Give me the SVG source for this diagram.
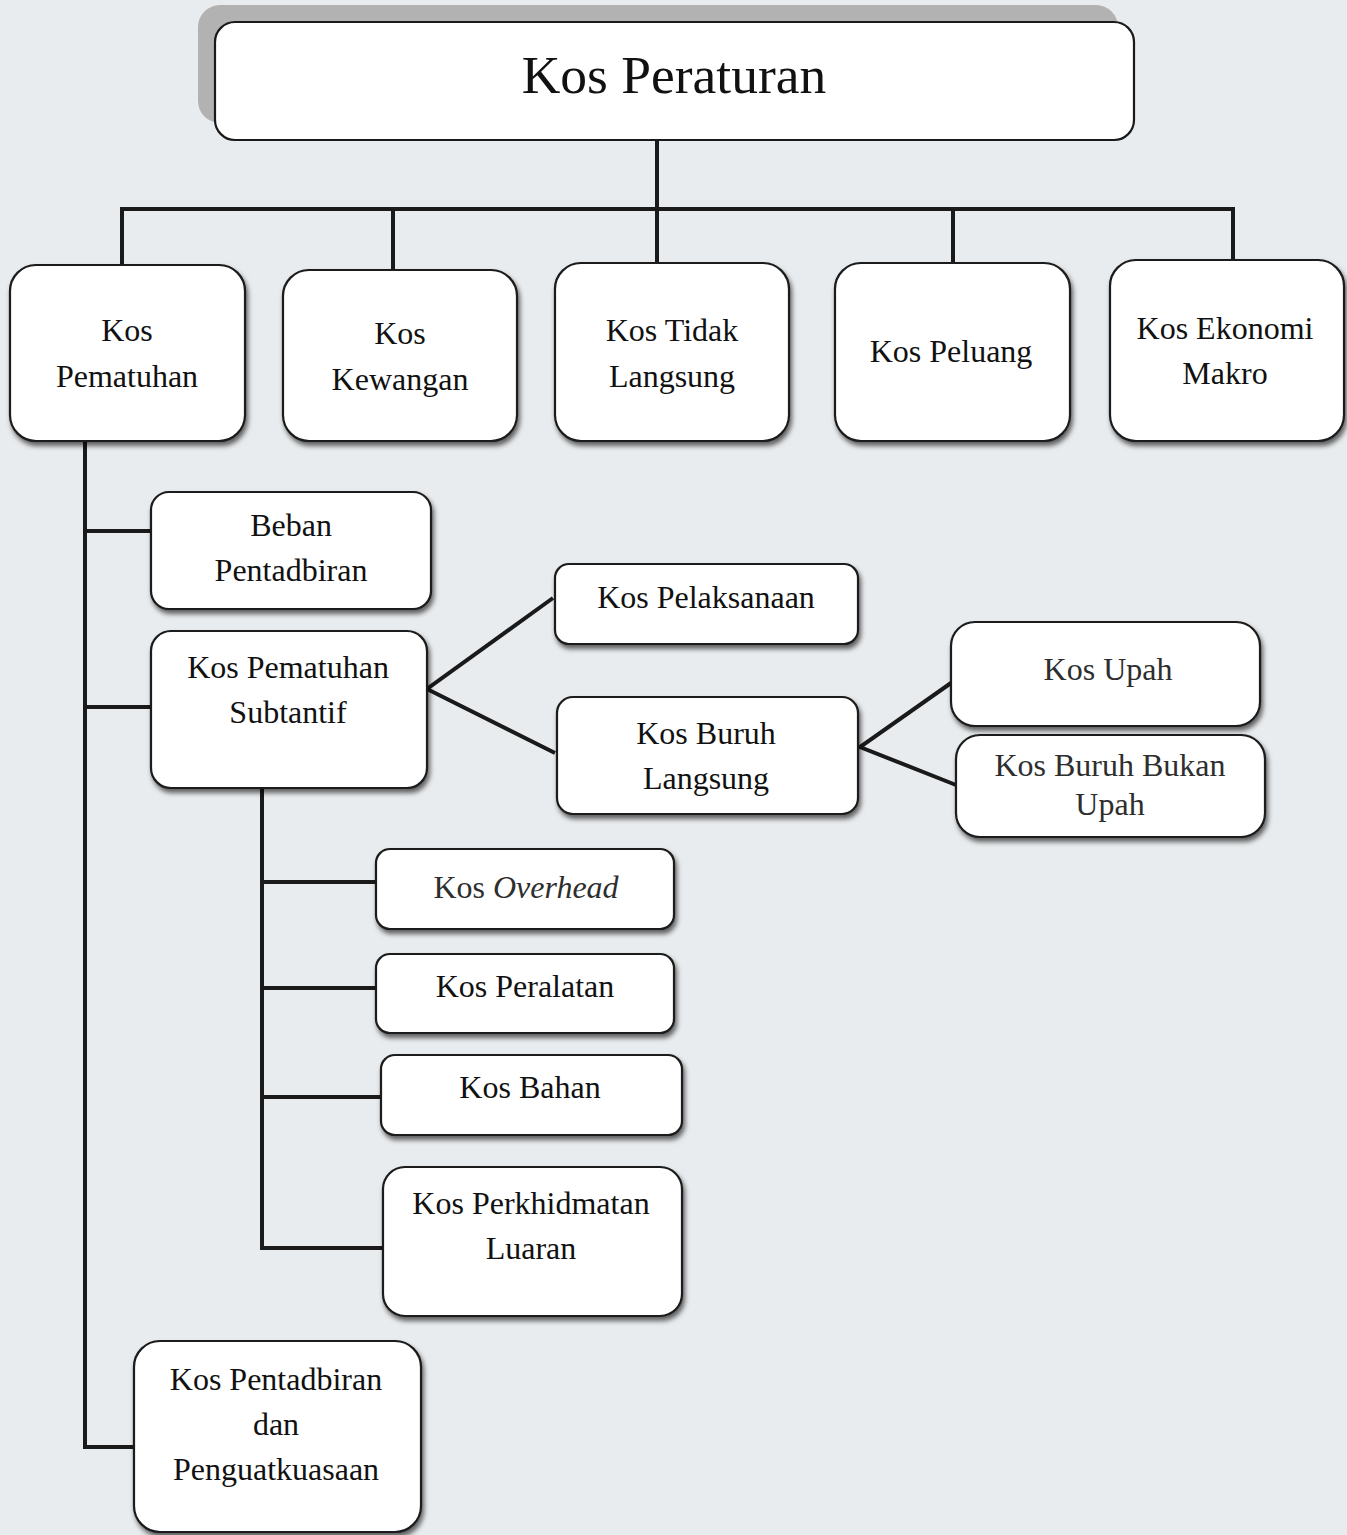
<svg xmlns="http://www.w3.org/2000/svg" width="1347" height="1535" viewBox="0 0 1347 1535">
<style>
.box{fill:#ffffff;stroke:#1a1a1a;stroke-width:2.2;filter:url(#sh)}
.t{font-family:'Liberation Serif','DejaVu Serif',serif;font-size:32px;fill:#111;text-anchor:middle}
.g{fill:#2e2e2e}
.c{fill:none;stroke:#1a1a1a;stroke-width:4;stroke-linejoin:miter}
</style>
<defs>
<filter id="sh" x="-10%" y="-10%" width="125%" height="130%">
<feDropShadow dx="2" dy="4" stdDeviation="2.5" flood-color="#000" flood-opacity="0.6"/>
</filter>
</defs>
<rect x="0" y="0" width="1347" height="1535" fill="#e9ecee"/>

<g id="connectors">
<path class="c" d="M657 140 V209 M122 265 V209 H1233 V260 M393 209 V270 M657 209 V263 M953 209 V262"/>
<path class="c" d="M85 441 V1447 H134 M85 531 H151 M85 707 H151"/>
<path class="c" d="M553 598 L427 689 L555 753"/>
<path class="c" d="M951 683 L860 747 L956 785"/>
<path class="c" d="M262 788 V1248 H383 M262 882 H376 M262 988 H376 M262 1097 H381"/>
</g>

<g id="n-root">
<rect x="198" y="5" width="920" height="118" rx="22" fill="#b2b2b2"/>
<rect x="215" y="22" width="919" height="118" rx="20" fill="#fff" stroke="#1a1a1a" stroke-width="2.2"/>
<text class="t" x="674" y="93" style="font-size:53.5px">Kos Peraturan</text>
</g>

<g id="n-pematuhan">
<rect class="box" x="10" y="265" width="235" height="176" rx="26"/>
<text class="t" x="127" y="341">Kos</text>
<text class="t" x="127" y="387">Pematuhan</text>
</g>
<g id="n-kewangan">
<rect class="box" x="283" y="270" width="234" height="171" rx="26"/>
<text class="t" x="400" y="344">Kos</text>
<text class="t" x="400" y="390">Kewangan</text>
</g>
<g id="n-tidak-langsung">
<rect class="box" x="555" y="263" width="234" height="178" rx="26"/>
<text class="t" x="672" y="341">Kos Tidak</text>
<text class="t" x="672" y="387">Langsung</text>
</g>
<g id="n-peluang">
<rect class="box" x="835" y="263" width="235" height="178" rx="26"/>
<text class="t" x="951" y="362">Kos Peluang</text>
</g>
<g id="n-ekonomi-makro">
<rect class="box" x="1110" y="260" width="234" height="181" rx="26"/>
<text class="t" x="1225" y="339">Kos Ekonomi</text>
<text class="t" x="1225" y="384">Makro</text>
</g>

<g id="n-beban">
<rect class="box" x="151" y="492" width="280" height="117" rx="18"/>
<text class="t" x="291" y="536">Beban</text>
<text class="t" x="291" y="581">Pentadbiran</text>
</g>
<g id="n-subtantif">
<rect class="box" x="151" y="631" width="276" height="157" rx="20"/>
<text class="t" x="288" y="678">Kos Pematuhan</text>
<text class="t" x="288" y="723">Subtantif</text>
</g>
<g id="n-pelaksanaan">
<rect class="box" x="555" y="564" width="303" height="80" rx="14"/>
<text class="t" x="706" y="608">Kos Pelaksanaan</text>
</g>
<g id="n-buruh-langsung">
<rect class="box" x="557" y="697" width="301" height="117" rx="16"/>
<text class="t" x="706" y="744">Kos Buruh</text>
<text class="t" x="706" y="789">Langsung</text>
</g>
<g id="n-upah">
<rect class="box" x="951" y="622" width="309" height="104" rx="24"/>
<text class="t g" x="1108" y="680">Kos Upah</text>
</g>
<g id="n-bukan-upah">
<rect class="box" x="956" y="735" width="309" height="102" rx="24"/>
<text class="t g" x="1110" y="776">Kos Buruh Bukan</text>
<text class="t g" x="1110" y="815">Upah</text>
</g>
<g id="n-overhead">
<rect class="box" x="376" y="849" width="298" height="80" rx="14"/>
<text class="t g" x="526" y="898">Kos <tspan font-style="italic">Overhead</tspan></text>
</g>
<g id="n-peralatan">
<rect class="box" x="376" y="954" width="298" height="79" rx="14"/>
<text class="t" x="525" y="997">Kos Peralatan</text>
</g>
<g id="n-bahan">
<rect class="box" x="381" y="1055" width="301" height="80" rx="14"/>
<text class="t" x="530" y="1098">Kos Bahan</text>
</g>
<g id="n-perkhidmatan">
<rect class="box" x="383" y="1167" width="299" height="149" rx="22"/>
<text class="t" x="531" y="1214">Kos Perkhidmatan</text>
<text class="t" x="531" y="1259">Luaran</text>
</g>
<g id="n-pentadbiran">
<rect class="box" x="134" y="1341" width="287" height="191" rx="26"/>
<text class="t" x="276" y="1390">Kos Pentadbiran</text>
<text class="t" x="276" y="1435">dan</text>
<text class="t" x="276" y="1480">Penguatkuasaan</text>
</g>
</svg>
